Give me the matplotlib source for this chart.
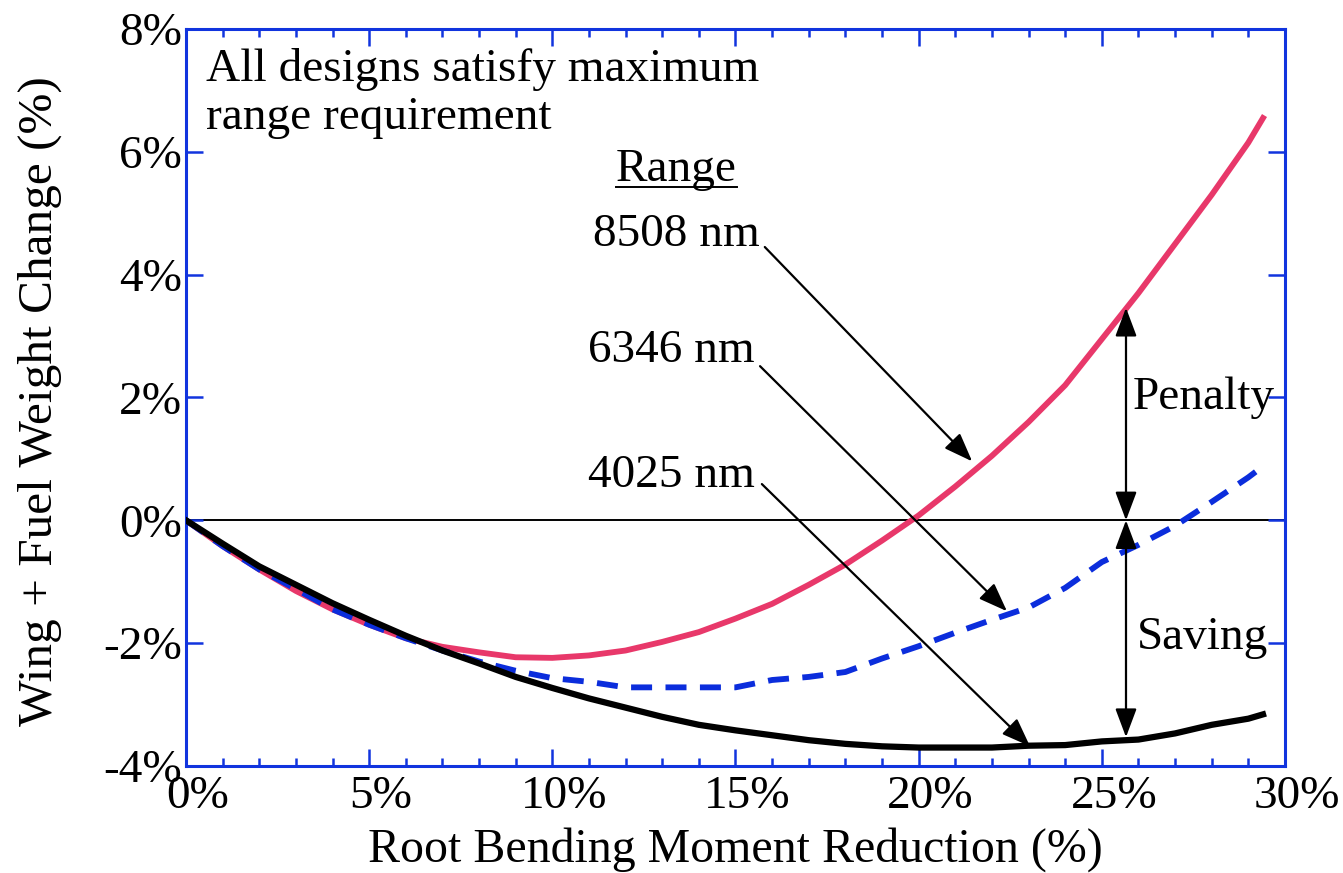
import numpy as np
import matplotlib
matplotlib.use("Agg")
import matplotlib.pyplot as plt
from matplotlib.ticker import MultipleLocator, FuncFormatter
from matplotlib.transforms import ScaledTranslation

plt.rcParams['font.family'] = ['Liberation Serif', 'DejaVu Serif']

# root bending moment reduction (%)
rbm = [0, 1, 2, 3, 4, 5, 6, 7, 8, 9, 10, 11, 12, 13, 14, 15, 16, 17, 18, 19,
       20, 21, 22, 23, 24, 25, 26, 27, 28, 29, 29.4]

# wing + fuel weight change (%) for each design range
w_8508 = [0, -0.42, -0.80, -1.15, -1.45, -1.70, -1.92, -2.06, -2.15, -2.23,
          -2.24, -2.20, -2.12, -1.98, -1.82, -1.60, -1.36, -1.05, -0.72, -0.33,
          0.08, 0.55, 1.05, 1.60, 2.20, 2.95, 3.70, 4.50, 5.30, 6.15, 6.55]
w_6346 = [0, -0.42, -0.80, -1.12, -1.45, -1.70, -1.92, -2.12, -2.30, -2.45,
          -2.57, -2.63, -2.72, -2.72, -2.72, -2.72, -2.60, -2.55, -2.47, -2.25,
          -2.05, -1.83, -1.62, -1.42, -1.10, -0.68, -0.40, -0.09, 0.30, 0.70, 0.88]
w_4025 = [0, -0.38, -0.75, -1.05, -1.35, -1.62, -1.88, -2.12, -2.33, -2.55,
          -2.73, -2.90, -3.05, -3.20, -3.33, -3.42, -3.50, -3.58, -3.64, -3.68,
          -3.70, -3.70, -3.70, -3.67, -3.66, -3.60, -3.57, -3.47, -3.33, -3.23, -3.16]

range_labels = ['8508 nm', '6346 nm', '4025 nm']

axcol = '#1134DE'
red = '#E8386A'
blue = '#0B2DDC'
fs = 34

fig = plt.figure(figsize=(13.43, 8.73), dpi=100)
ax = fig.add_axes([0.1385, 0.1226, 0.9568 - 0.1385, 0.9668 - 0.1226])

ax.axhline(0, color='k', lw=1.4, zorder=1)
ax.plot(rbm, w_8508, color=red, lw=4.2, zorder=2)
ax.plot(rbm, w_6346, color=blue, lw=4.2, ls=(0, (3.6, 2.3)), zorder=3)
ax.plot(rbm, w_4025, color='k', lw=4.5, zorder=4)

ax.set_xlim(0, 30)
ax.set_ylim(-4, 8)
ax.xaxis.set_major_locator(MultipleLocator(5))
ax.xaxis.set_minor_locator(MultipleLocator(1))
ax.yaxis.set_major_locator(MultipleLocator(2))
pct = FuncFormatter(lambda v, p: f"{v:g}%")
ax.xaxis.set_major_formatter(pct)
ax.yaxis.set_major_formatter(pct)

for s in ax.spines.values():
    s.set_color(axcol)
    s.set_linewidth(2.2)
ax.tick_params(which='both', direction='in', top=True, right=True,
               color=axcol, width=1.8, labelsize=fs)
ax.tick_params(which='major', length=12)
ax.tick_params(which='minor', length=6)
ax.tick_params(axis='x', pad=7)
ax.tick_params(axis='y', pad=3)
for lab in ax.get_xticklabels():
    lab.set_transform(lab.get_transform() + ScaledTranslation(0.12, 0, fig.dpi_scale_trans))

ax.set_xlabel('Root Bending Moment Reduction (%)', fontsize=34.5)
ax.xaxis.label.set_va('baseline')
ax.xaxis.set_label_coords(0.5, -0.130)
ax.set_ylabel('Wing + Fuel Weight Change (%)', fontsize=35.5)
ax.yaxis.set_label_coords(-0.113, 0.495)

ax.text(0.55, 7.15, 'All designs satisfy maximum', fontsize=fs, va='baseline')
ax.text(0.55, 6.37, 'range requirement', fontsize=fs, va='baseline')

rng = ax.text(13.38, 5.52, 'Range', fontsize=fs, ha='center', va='baseline')

arrow = dict(arrowstyle='-|>,head_length=0.8,head_width=0.3', color='k',
             lw=1.6, mutation_scale=22, shrinkA=0, shrinkB=0)
lab_pos = [(13.38, 4.46), (13.24, 2.57), (13.24, 0.55)]
tails = [(15.8, 4.45), (15.67, 2.51), (15.72, 0.59)]
heads = [(21.46, 0.96), (22.41, -1.48), (23.04, -3.68)]
for name, lp, t, h in zip(range_labels, lab_pos, tails, heads):
    ax.text(lp[0], lp[1], name, fontsize=fs, ha='center', va='baseline')
    ax.annotate('', xy=h, xytext=t, arrowprops=arrow)

dbl = dict(arrowstyle='<|-|>,head_length=0.8,head_width=0.3', color='k',
           lw=1.6, mutation_scale=22, shrinkA=0, shrinkB=0)
ax.annotate('', xy=(25.66, 3.46), xytext=(25.66, 0.0), arrowprops=dbl)
ax.annotate('', xy=(25.66, 0.0), xytext=(25.66, -3.53), arrowprops=dbl)
ax.text(25.85, 1.81, 'Penalty', fontsize=fs, va='baseline')
ax.text(27.75, -2.10, 'Saving', fontsize=fs, ha='center', va='baseline')

# underline for "Range"
fig.canvas.draw()
bb = rng.get_window_extent().transformed(ax.transData.inverted())
ax.plot([bb.x0, bb.x1], [5.42, 5.42], color='k', lw=1.4)

fig.savefig('out.png', dpi=100)
